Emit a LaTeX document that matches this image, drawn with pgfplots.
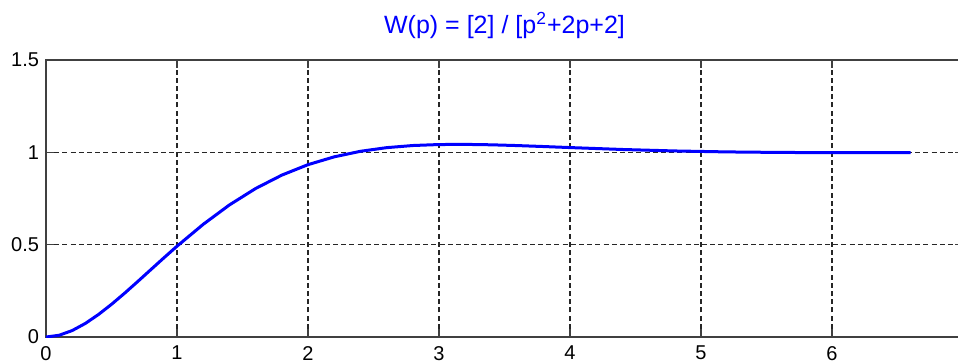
\documentclass[border=0pt]{standalone}
\usepackage{pgfplots}
\pgfplotsset{compat=1.18}
\usepackage{fontspec}
\setmainfont{Liberation Sans}
\begin{document}
\begin{tikzpicture}
\useasboundingbox (-23pt,-12pt) rectangle (456pt,168.5pt);
\clip (-23pt,-12pt) rectangle (456pt,168.5pt);
\begin{axis}[
  at={(0,0)}, anchor=south west,
  width=458.5pt, height=138.5pt, scale only axis,
  xmin=0, xmax=7, ymin=0, ymax=1.5,
  xtick={0,1,2,3,4,5,6,7}, ytick={0,0.5,1,1.5},
  grid=major,
  major grid style={dash pattern=on 2.5pt off 1.6pt, black!85, line width=0.6pt},
  tick align=inside, major tick length=4pt,
  xtick pos=both, ytick pos=both,
  xticklabel pos=lower, yticklabel pos=left,
  axis line style={black!75, line width=0.7pt},
  tick style={black!75, line width=0.7pt},
  ticklabel style={font=\fontsize{10}{12}\selectfont, color=black},
  xticklabel style={yshift=-1pt},
  /pgf/number format/assume math mode=true,
  title={W(p) = [2] / [p\textsuperscript{2}+2p+2]},
  title style={font=\fontsize{12.5}{14}\selectfont, color=blue, anchor=base, yshift=7.5pt},
]
\addplot[blue, line width=1.5pt] coordinates {
(0,0) (0.1,0.00935) (0.2,0.03493) (0.3,0.07334) (0.4,0.12156) (0.5,0.17693)
(0.6,0.23716) (0.7,0.30028) (0.8,0.36462) (0.9,0.42879) (1.0,0.49167)
(1.2,0.61013) (1.4,0.71508) (1.6,0.80409) (1.8,0.87658) (2.0,0.93326)
(2.2,0.97562) (2.4,1.00562) (2.6,1.02536) (2.8,1.03693) (3.0,1.04226)
(3.2,1.04307) (3.4,1.04079) (3.6,1.03659) (3.8,1.03138) (4.0,1.02583)
(4.4,1.01546) (4.8,1.00748) (5.2,1.00229) (5.6,0.99947) (6.0,0.99831) (6.6,0.99828)
};
\end{axis}
\end{tikzpicture}
\end{document}
